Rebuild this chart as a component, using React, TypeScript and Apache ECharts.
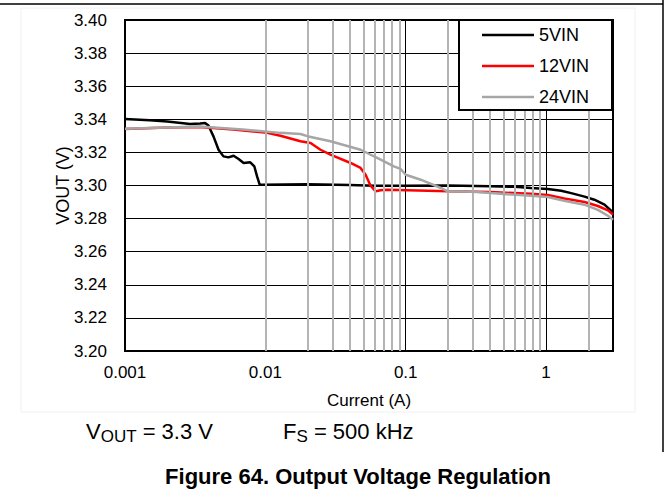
import { useEffect, useRef } from 'react';
import * as echarts from 'echarts';

const seriesNames = ['5VIN', '12VIN', '24VIN'];
const seriesColors = ['#000000', '#ff0000', '#a6a6a6'];

const current5 = [0.001, 0.0015, 0.002, 0.00291, 0.00343, 0.00372, 0.00393, 0.00427, 0.00464, 0.00503, 0.00546, 0.00594, 0.00645, 0.0070, 0.00781, 0.00835, 0.00873, 0.00911, 0.0095, 0.02, 0.04, 0.06, 0.1, 0.2, 0.4, 0.6, 0.78, 1.03, 1.28, 1.51, 1.88, 2.21, 2.61, 3.0];
const vout5 = [3.3402, 3.3394, 3.3386, 3.3372, 3.3374, 3.3378, 3.3362, 3.3297, 3.3216, 3.3176, 3.3170, 3.3180, 3.3160, 3.3136, 3.3140, 3.3115, 3.3055, 3.3005, 3.3005, 3.3008, 3.3003, 3.2999, 3.2999, 3.3000, 3.2995, 3.2992, 3.2985, 3.2979, 3.2968, 3.2954, 3.2933, 3.2914, 3.2884, 3.2837];

const current12 = [0.001, 0.002, 0.0034, 0.0059, 0.0103, 0.0128, 0.0178, 0.021, 0.0247, 0.0291, 0.0405, 0.0477, 0.0518, 0.0562, 0.0611, 0.0663, 0.074, 0.2, 0.405, 0.781, 1.028, 1.35, 1.88, 2.34, 2.76, 3.0];
const vout12 = [3.3342, 3.3350, 3.3354, 3.3338, 3.3318, 3.3301, 3.3267, 3.3257, 3.3216, 3.3186, 3.3136, 3.3106, 3.3065, 3.2999, 3.2965, 3.2971, 3.2974, 3.2965, 3.2960, 3.2950, 3.2942, 3.2922, 3.2900, 3.2876, 3.2850, 3.2825];

const current24 = [0.001, 0.0034, 0.0069, 0.0128, 0.0178, 0.0199, 0.0291, 0.0477, 0.0663, 0.0824, 0.092, 0.100, 0.128, 0.178, 0.199, 0.3, 0.405, 0.781, 1.028, 1.35, 1.88, 2.34, 2.76, 3.0];
const vout24 = [3.3343, 3.3357, 3.3338, 3.3318, 3.3311, 3.3298, 3.3267, 3.3216, 3.3156, 3.3116, 3.3100, 3.3065, 3.3035, 3.2985, 3.2965, 3.2962, 3.2954, 3.2938, 3.2930, 3.2908, 3.2884, 3.2853, 3.2817, 3.2793];

const xTickLabels = ['0.001', '0.01', '0.1', '1'];
const minorGridValues = [0.002, 0.003, 0.004, 0.005, 0.006, 0.007, 0.008, 0.009, 0.02, 0.03, 0.04, 0.05, 0.06, 0.07, 0.08, 0.09, 0.2, 0.3, 0.4, 0.5, 0.6, 0.7, 0.8, 0.9, 2];

const xAxisTitle = 'Current (A)';
const yAxisTitle = 'VOUT (V)';
const figureTitle = 'Figure 64. Output Voltage Regulation';

const FONT = '"Liberation Sans", Arial, Helvetica, sans-serif';

export default function App() {
  const ref = useRef<HTMLDivElement>(null);

  useEffect(() => {
    if (!ref.current) return;
    const chart = echarts.init(ref.current, null, { renderer: 'svg' });

    const zip = (xs: number[], ys: number[]) => xs.map((x, i) => [x, ys[i]]);
    const dataSets = [zip(current5, vout5), zip(current12, vout12), zip(current24, vout24)];
    const zOrder = [3, 4, 5];

    const option: any = {
      animation: false,
      backgroundColor: '#ffffff',
      textStyle: { fontFamily: FONT },
      grid: {
        left: 125,
        top: 20,
        width: 488,
        height: 331,
        show: true,
        borderColor: '#000000',
        borderWidth: 2,
        backgroundColor: 'transparent',
      },
      xAxis: {
        type: 'log',
        logBase: 10,
        min: 0.001,
        max: 3,
        name: xAxisTitle,
        nameLocation: 'middle',
        nameGap: 41,
        nameTextStyle: { fontSize: 17, color: '#000', fontFamily: FONT },
        axisLine: { show: false },
        axisTick: { show: false },
        axisLabel: {
          fontSize: 17,
          color: '#000',
          fontFamily: FONT,
          margin: 13,
          showMaxLabel: false,
          formatter: (v: number) => {
            const l = Math.log10(v);
            const r = Math.round(l);
            if (Math.abs(l - r) > 1e-6) return '';
            return xTickLabels[r + 3] ?? '';
          },
        },
        splitLine: { show: true, lineStyle: { color: '#000', width: 1 } },
      },
      yAxis: {
        type: 'value',
        min: 3.2,
        max: 3.4,
        interval: 0.02,
        name: yAxisTitle,
        nameLocation: 'middle',
        nameGap: 53,
        nameRotate: 90,
        nameMoveOverlap: false,
        nameTextStyle: { fontSize: 18, color: '#000', fontFamily: FONT },
        axisLine: { show: false },
        axisTick: { show: false },
        axisLabel: {
          fontSize: 17,
          color: '#000',
          fontFamily: FONT,
          margin: 18,
          formatter: (v: number) => v.toFixed(2),
        },
        splitLine: { show: true, lineStyle: { color: '#000', width: 1 } },
      },
      legend: {
        data: seriesNames,
        orient: 'vertical',
        left: 459,
        top: 20,
        padding: [6, 0, 6, 23],
        icon: 'rect',
        itemWidth: 52,
        itemHeight: 2.5,
        itemGap: 13,
        selectedMode: false,
        z: 200,
        textStyle: { fontSize: 18, color: '#000', fontFamily: FONT },
      },
      series: [
        {
          name: 'minor-grid',
          type: 'line',
          data: [[0.001, 3.2]],
          showSymbol: false,
          symbol: 'none',
          lineStyle: { opacity: 0 },
          silent: true,
          z: 1,
          markLine: {
            silent: true,
            symbol: ['none', 'none'],
            label: { show: false },
            lineStyle: { color: '#b4b4b4', width: 2, type: 'solid' },
            emphasis: { disabled: true },
            data: minorGridValues.map((v) => ({ xAxis: v })),
          },
        },
        ...seriesNames.map((name, i) => ({
          name,
          type: 'line',
          data: dataSets[i],
          showSymbol: false,
          symbol: 'none',
          z: zOrder[i],
          color: seriesColors[i],
          itemStyle: { color: seriesColors[i] },
          lineStyle: { color: seriesColors[i], width: 2.5 },
          emphasis: { disabled: true },
        })),
      ],
      graphic: [
        {
          type: 'rect',
          z: -1,
          shape: { x: 21, y: 8, width: 614, height: 404 },
          style: { fill: 'none', stroke: '#f0f0f0', lineWidth: 1 },
        },
        {
          type: 'line',
          z: 50,
          shape: { x1: 0, y1: 4, x2: 663, y2: 4 },
          style: { stroke: '#000', lineWidth: 1.5 },
        },
        {
          type: 'line',
          z: 50,
          shape: { x1: 663, y1: 0, x2: 663, y2: 452 },
          style: { stroke: '#000', lineWidth: 1.5 },
        },
        {
          type: 'rect',
          z: 100,
          shape: { x: 459, y: 20, width: 153, height: 90 },
          style: { fill: '#ffffff', stroke: '#000000', lineWidth: 2 },
        },
        {
          type: 'text',
          z: 50,
          x: 86,
          y: 431,
          style: {
            text: '{v|V}{s|OUT}{v| = 3.3 V}',
            verticalAlign: 'middle',
            align: 'left',
            rich: {
              v: { fontSize: 22, lineHeight: 28, fontFamily: FONT, fill: '#000' },
              s: { fontSize: 17, lineHeight: 16, verticalAlign: 'bottom', fontFamily: FONT, fill: '#000' },
            },
          },
        },
        {
          type: 'text',
          z: 50,
          x: 283,
          y: 431,
          style: {
            text: '{v|F}{s|S}{v| = 500 kHz}',
            verticalAlign: 'middle',
            align: 'left',
            rich: {
              v: { fontSize: 22, lineHeight: 28, fontFamily: FONT, fill: '#000' },
              s: { fontSize: 17, lineHeight: 16, verticalAlign: 'bottom', fontFamily: FONT, fill: '#000' },
            },
          },
        },
        {
          type: 'text',
          z: 50,
          x: 358,
          y: 476,
          style: {
            text: figureTitle,
            align: 'center',
            verticalAlign: 'middle',
            fontSize: 22,
            fontWeight: 'bold',
            fontFamily: FONT,
            fill: '#000',
          },
        },
      ],
    };

    chart.setOption(option);
    return () => chart.dispose();
  }, []);

  return (
    <div
      ref={ref}
      style={{ position: 'absolute', left: 0, top: 0, width: 669, height: 497 }}
    />
  );
}
